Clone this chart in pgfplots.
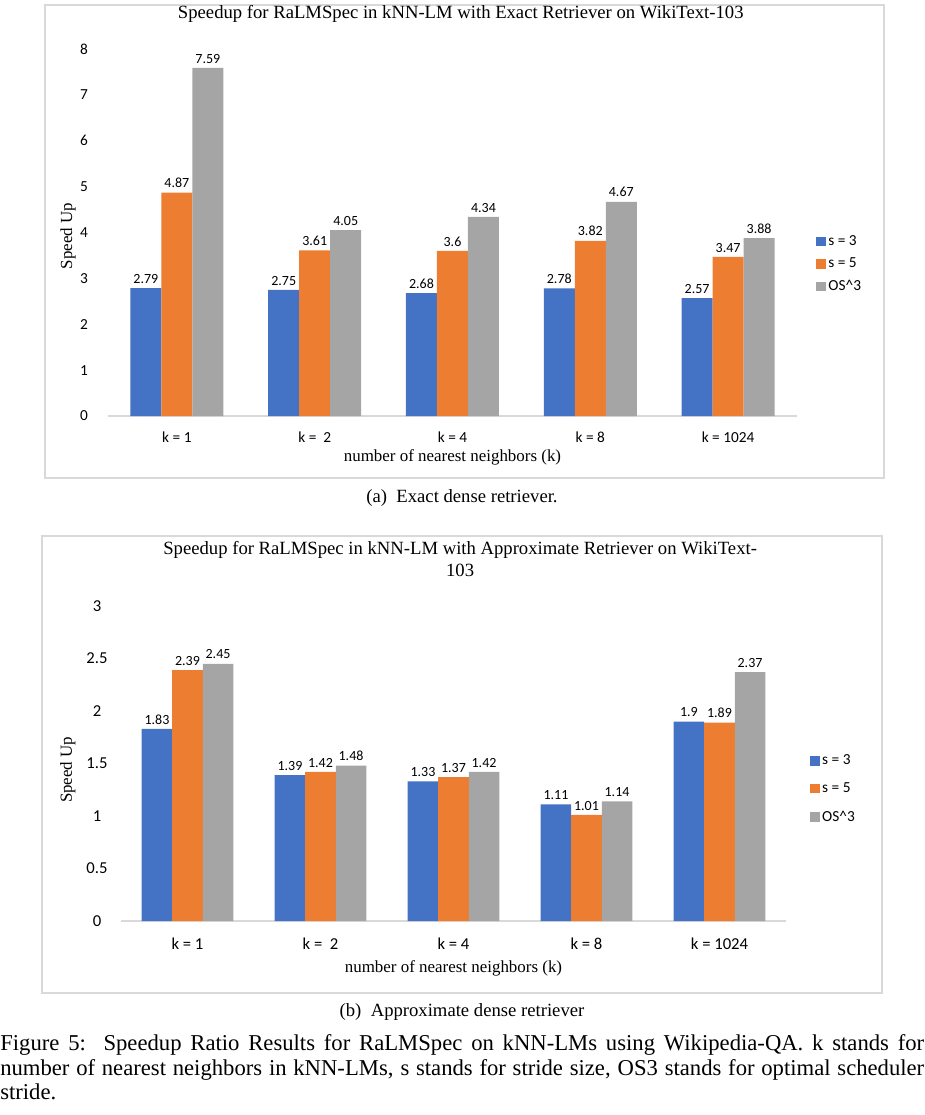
\documentclass[border=0pt]{standalone}
\usepackage{fontspec}
\setmainfont{Liberation Serif}
\newfontfamily\calfont{Carlito}
\usepackage{pgfplots}
\pgfplotsset{compat=1.18}

\definecolor{sblue}{HTML}{4472C4}
\definecolor{sorange}{HTML}{ED7D31}
\definecolor{sgray}{HTML}{A5A5A5}
\definecolor{framegray}{HTML}{D9D9D9}

% exact retriever
\pgfplotstableread{
x s3 s5 os
0 2.79 4.87 7.59
1 2.75 3.61 4.05
2 2.68 3.60 4.34
3 2.78 3.82 4.67
4 2.57 3.47 3.88
}\exact
% approximate retriever
\pgfplotstableread{
x s3 s5 os
0 1.83 2.39 2.45
1 1.39 1.42 1.48
2 1.33 1.37 1.42
3 1.11 1.01 1.14
4 1.90 1.89 2.37
}\approxr

\pgfplotsset{
  speedup/.style={
    ybar=0pt, scale only axis, clip=false,
    xmin=-0.5, xmax=4.5, ymin=0,
    xtick={0,...,4},
    xticklabels={k = 1, k =\ \ 2, k = 4, k = 8, k = 1024},
    axis x line*=bottom, axis y line*=left,
    x axis line style={draw=framegray, line width=1pt},
    y axis line style={draw=none},
    tick style={draw=none}, major tick length=0pt,
    /pgf/number format/assume math mode=true,
    ticklabel style={font=\calfont\fontsize{11.5}{13}\selectfont},
    yticklabel style={anchor=center, xshift=-18pt},
    nodes near coords,
    every node near coord/.append style={font=\calfont\fontsize{10.5}{12}\selectfont, black},
    title style={font=\fontsize{14}{16.5}\selectfont, align=center, anchor=center},
    xlabel style={font=\fontsize{12.7}{14}\selectfont, anchor=center},
    ylabel style={font=\fontsize{12.7}{14}\selectfont, anchor=center},
    legend style={draw=none, fill=none, anchor=west,
      font=\calfont\fontsize{11.5}{13}\selectfont, legend cell align=left},
    legend image code/.code={\fill[##1] (0pt,-3.5pt) rectangle (7pt,3.5pt);},
  }
}

\begin{document}
\begin{tikzpicture}
\path (0pt,0pt) rectangle (693pt,-836.25pt);
% frames
\draw[framegray, line width=0.8pt] (33.75pt,-3.75pt) rectangle (663pt,-358.5pt);
\draw[framegray, line width=0.8pt] (31.5pt,-402pt) rectangle (661.5pt,-744.75pt);

\begin{axis}[speedup,
  at={(81pt,-312pt)}, anchor=south west,
  width=516.75pt, height=275.25pt,
  ymax=8, ytick={0,1,...,8},
  bar width=23.25pt,
  xticklabel style={anchor=center, yshift=-15.75pt},
  title={Speedup for RaLMSpec in kNN-LM with Exact Retriever on WikiText-103},
  title style={at={(axis description cs:0.512,1.074)}},
  xlabel={number of nearest neighbors (k)},
  xlabel style={at={(axis description cs:0.5,-0.114)}},
  ylabel={Speed Up},
  ylabel style={at={(axis description cs:-0.058,0.49)}},
  legend style={at={(rel axis cs:1.022,0.414)}, row sep=4pt},
]
\addplot[draw=none, fill=sblue] table[x=x, y=s3] {\exact};
\addplot[draw=none, fill=sorange] table[x=x, y=s5] {\exact};
\addplot[draw=none, fill=sgray] table[x=x, y=os] {\exact};
\legend{s = 3, s = 5, OS\textasciicircum 3}
\end{axis}

\node[font=\fontsize{14}{16}\selectfont] at (346.5pt,-373.5pt) {(a)\ \ Exact dense retriever.};

\begin{axis}[speedup,
  at={(90.75pt,-690.75pt)}, anchor=south west,
  width=498.75pt, height=236.25pt,
  ymax=3, ytick={0,0.5,...,3},
  bar width=22.9pt,
  xticklabel style={anchor=center, yshift=-17.25pt},
  ticklabel style={font=\calfont\fontsize{12.5}{14}\selectfont},
  title={Speedup for RaLMSpec in kNN-LM with Approximate Retriever on WikiText-\\103},
  title style={at={(axis description cs:0.51,1.124)}},
  xlabel={number of nearest neighbors (k)},
  xlabel style={at={(axis description cs:0.5,-0.149)}},
  ylabel={Speed Up},
  ylabel style={at={(axis description cs:-0.08,0.48)}},
  legend style={at={(rel axis cs:1.03,0.419)}, row sep=8pt},
]
\addplot[draw=none, fill=sblue] table[x=x, y=s3] {\approxr};
\addplot[draw=none, fill=sorange] table[x=x, y=s5] {\approxr};
\addplot[draw=none, fill=sgray] table[x=x, y=os] {\approxr};
\legend{s = 3, s = 5, OS\textasciicircum 3}
\end{axis}

\node[font=\fontsize{14}{16}\selectfont] at (346.5pt,-759pt) {(b)\ \ Approximate dense retriever};

\node[anchor=north west, inner sep=0pt, text width=693pt, align=justify,
  font=\fontsize{17}{18.4}\selectfont] at (0pt,-776pt)
  {Figure 5:\ \ Speedup Ratio Results for RaLMSpec on kNN-LMs using Wikipedia-QA. k stands for\linebreak
   number of nearest neighbors in kNN-LMs, s stands for stride size, OS3 stands for optimal scheduler\linebreak
   stride.};
\end{tikzpicture}
\end{document}
